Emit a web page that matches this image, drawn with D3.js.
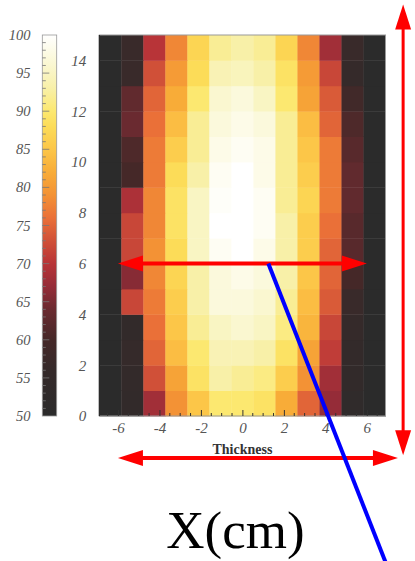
<!DOCTYPE html>
<html>
<head>
<meta charset="utf-8">
<script src="https://cdn.jsdelivr.net/npm/d3@7"></script>
<style>
  html, body { margin: 0; padding: 0; background: #fff; }
  svg { display: block; }
</style>
</head>
<body>
<svg id="chart" width="415" height="561"></svg>
<script>
// ---------------- DATA ----------------
// Heat-map values, rows from Y=0 (bottom) to Y=14 (top), 13 columns across the thickness
const rowY = [0,1,2,3,4,5,6,7,8,9,10,11,12,13,14];
const values = [
  [50,54,68,79,85,90,90,89,82,75,67,53,50],
  [50,55,73,81,89,93,92,91,86,79,68,54,50],
  [50,56,75,84,90,94,94,93,89,81,71,55,50],
  [50,54,76,85,92,95,96,95,91,83,72,56,50],
  [50,72,77,86,93,97,97,96,92,84,74,57,50],
  [50,66,78,87,93,97,98,97,93,85,75,60,50],
  [50,72,79,88,95,99,100,98,93,86,75,62,50],
  [50,72,78,89,95,100,100,99,93,86,76,62,50],
  [50,69,78,89,95,99.5,100,99,92,87,77,63,50],
  [50,60,77,88,93,99,100,98,92,86,77,63,50],
  [50,61,77,86,92,98,99,98,92,85,77,62,50],
  [50,64,76,84,92,97,98,97,92,84,75,61,50],
  [50,63,75,82,90,96,97,95,90,81,74,59,50],
  [50,57,73,80,88,94,94.5,93,89,80,72,56,50],
  [50,57,70,78,87,92,93,92,87,78,68,57,50]
];
const xDomain = [-6.9, 6.9];
const yDomain = [0, 15];
const xTicks = [-6,-4,-2,0,2,4,6];
const yTicks = [0,2,4,6,8,10,12,14];
const cbTicks = [50,55,60,65,70,75,80,85,90,95,100];
const cbDomain = [50, 100];
// colour map stops (value -> colour)
const cmapVals = [50,56,60,64,67,70,73,76,79,82,85,88,90,93,96,100];
const cmapCols = ["#2b2b2b","#352a2a","#452828","#6a2a30","#952c38","#b83438","#d05038","#ea7038",
                  "#f39235","#f8ac38","#fcc648","#fcdc58","#fce870","#f8f0a8","#faf7d0","#ffffff"];
const xLabel = "Thickness";
const bigLabel = "X(cm)";
// annotations (in data units)
const arrowMid = {x1: -6, x2: 6, y: 6};
const arrowBottom = {x1: -6, x2: 7.5, y: -1.65};
const arrowRight = {x: 7.75, y1: 16.2, y2: -1.55};
const blueLine = {x1: 1.25, y1: 6, x2: 6.9, y2: -5.75};

// ---------------- LAYOUT ----------------
const svg = d3.select("#chart");
const P = {left: 99.3, right: 385.5, top: 35, bottom: 416};
const x = d3.scaleLinear().domain(xDomain).range([P.left, P.right]);
const y = d3.scaleLinear().domain(yDomain).range([P.bottom, P.top]);
const col = d3.scaleBand().domain(d3.range(values[0].length)).range([P.left, P.right]).padding(0);
const color = d3.scaleLinear().domain(cmapVals).range(cmapCols).interpolate(d3.interpolateRgb).clamp(true);

const numFont = "'Liberation Serif', 'Times New Roman', serif";
const fmt = d => String(d);

// heat map cells
const g = svg.append("g");
values.forEach((row, ri) => {
  g.selectAll(null).data(row).enter().append("rect")
    .attr("x", (d, ci) => col(ci))
    .attr("y", y(rowY[ri] + 1))
    .attr("width", col.bandwidth() + 0.4)
    .attr("height", y(rowY[ri]) - y(rowY[ri] + 1) + 0.4)
    .attr("fill", d => color(d));
});

// frame
svg.append("rect").attr("x", P.left).attr("y", P.top)
  .attr("width", P.right - P.left).attr("height", P.bottom - P.top)
  .attr("fill", "none").attr("stroke", "#9a9a9a").attr("stroke-width", 1);
svg.append("line").attr("x1", P.left).attr("x2", P.left).attr("y1", P.top).attr("y2", P.bottom)
  .attr("stroke", "#111").attr("stroke-width", 1);

// bottom axis (ticks inward)
const xAxis = d3.axisBottom(x).tickValues(xTicks).tickSize(-6).tickPadding(6).tickFormat(fmt);
const xa = svg.append("g").attr("transform", `translate(0,${P.bottom})`).call(xAxis)
  .attr("font-family", null).attr("font-size", null);
xa.select(".domain").remove();
xa.selectAll("line").attr("stroke", "#333");
xa.selectAll("text").style("font-family", numFont).style("font-style", "italic")
  .style("font-size", "15px").attr("fill", "#555");
// minor ticks
const minor = d3.range(-6.5, 6.51, 0.5).filter(v => !xTicks.includes(v));
svg.append("g").selectAll("line").data(minor).enter().append("line")
  .attr("x1", d => x(d)).attr("x2", d => x(d))
  .attr("y1", P.bottom).attr("y2", P.bottom - 3)
  .attr("stroke", "#333").attr("stroke-width", 1);

// left axis
const yAxis = d3.axisLeft(y).tickValues(yTicks).tickSize(0).tickPadding(13).tickFormat(fmt);
const ya = svg.append("g").attr("transform", `translate(${P.left},0)`).call(yAxis)
  .attr("font-family", null).attr("font-size", null);
ya.select(".domain").remove();
ya.selectAll("text").style("font-family", numFont).style("font-style", "italic")
  .style("font-size", "15px").attr("fill", "#555");

// axis title
svg.append("text").attr("x", x(0)).attr("y", 454).attr("text-anchor", "middle")
  .style("font-family", numFont).style("font-weight", "bold").style("font-size", "14px")
  .attr("fill", "#333").text(xLabel);

// ---------------- COLOUR BAR ----------------
const CB = {left: 42.3, right: 56.7};
const cy = d3.scaleLinear().domain(cbDomain).range([P.bottom, P.top]);
const defs = svg.append("defs");
const grad = defs.append("linearGradient").attr("id", "cbgrad")
  .attr("x1", 0).attr("y1", 1).attr("x2", 0).attr("y2", 0);
grad.selectAll("stop").data(cmapVals).enter().append("stop")
  .attr("offset", d => (d - cbDomain[0]) / (cbDomain[1] - cbDomain[0]))
  .attr("stop-color", d => color(d));
svg.append("rect").attr("x", CB.left).attr("y", P.top)
  .attr("width", CB.right - CB.left).attr("height", P.bottom - P.top)
  .attr("fill", "url(#cbgrad)").attr("stroke", "#999").attr("stroke-width", 0.8);
svg.append("g").selectAll("line").data(d3.range(51, 100)).enter().append("line")
  .attr("x1", CB.left).attr("x2", d => CB.left + (d % 5 === 0 ? 7 : 3.5))
  .attr("y1", d => cy(d)).attr("y2", d => cy(d))
  .attr("stroke", "#777").attr("stroke-width", 0.8);
svg.append("g").selectAll("text").data(cbTicks).enter().append("text")
  .attr("x", 30.5).attr("y", d => cy(d)).attr("dy", "0.35em")
  .attr("text-anchor", "end")
  .style("font-family", numFont).style("font-style", "italic").style("font-size", "14.5px")
  .attr("fill", "#555").text(d => d);

// ---------------- ANNOTATIONS ----------------
function hArrow(x1, x2, yy, headLen, headHalf, w) {
  const a = svg.append("g");
  a.append("line").attr("x1", x1 + headLen - 2).attr("x2", x2 - headLen + 2)
    .attr("y1", yy).attr("y2", yy).attr("stroke", "#ff0000").attr("stroke-width", w);
  a.append("polygon").attr("points", `${x1},${yy} ${x1 + headLen},${yy - headHalf} ${x1 + headLen},${yy + headHalf}`).attr("fill", "#ff0000");
  a.append("polygon").attr("points", `${x2},${yy} ${x2 - headLen},${yy - headHalf} ${x2 - headLen},${yy + headHalf}`).attr("fill", "#ff0000");
}
function vArrow(xx, y1, y2, headLen, headHalf, w) {
  const a = svg.append("g");
  a.append("line").attr("x1", xx).attr("x2", xx)
    .attr("y1", y1 + headLen - 2).attr("y2", y2 - headLen + 2)
    .attr("stroke", "#ff0000").attr("stroke-width", w);
  a.append("polygon").attr("points", `${xx},${y1} ${xx - headHalf},${y1 + headLen} ${xx + headHalf},${y1 + headLen}`).attr("fill", "#ff0000");
  a.append("polygon").attr("points", `${xx},${y2} ${xx - headHalf},${y2 - headLen} ${xx + headHalf},${y2 - headLen}`).attr("fill", "#ff0000");
}
hArrow(x(arrowMid.x1), x(arrowMid.x2), y(arrowMid.y), 25, 8, 4);
hArrow(x(arrowBottom.x1), x(arrowBottom.x2), y(arrowBottom.y), 25, 8, 4);
vArrow(x(arrowRight.x), y(arrowRight.y1), y(arrowRight.y2), 25, 8, 3);

svg.append("line")
  .attr("x1", x(blueLine.x1)).attr("y1", y(blueLine.y1))
  .attr("x2", x(blueLine.x2)).attr("y2", y(blueLine.y2))
  .attr("stroke", "#0000ff").attr("stroke-width", 4);

svg.append("text").attr("x", 235.5).attr("y", 548).attr("text-anchor", "middle")
  .style("font-family", numFont).style("font-size", "53px").attr("fill", "#000").text(bigLabel);
</script>
</body>
</html>
